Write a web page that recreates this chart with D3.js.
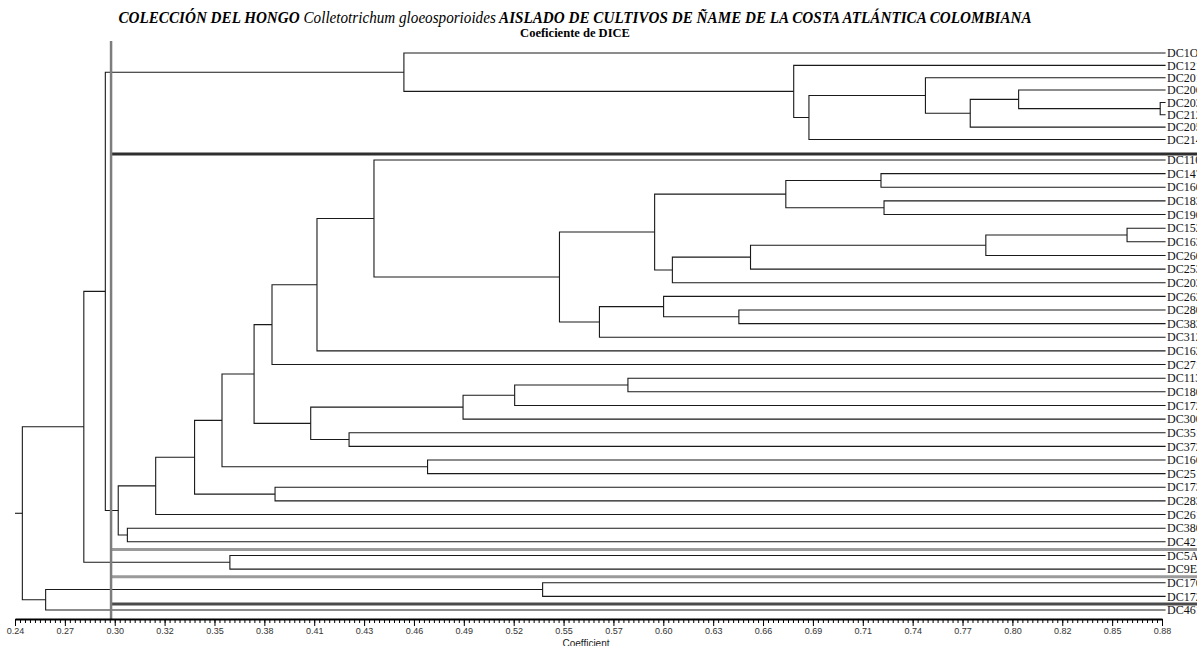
<!DOCTYPE html>
<html>
<head>
<meta charset="utf-8">
<style>
  body { margin: 0; background: #fff; }
  svg { display: block; }
</style>
</head>
<body>
<svg width="1197" height="646"></svg>
<script src="https://d3js.org/d3.v7.min.js"></script>
<script>

// leaf labels, top to bottom (clipped at the right edge like the original)
var leaves = ["DC1O1", "DC121", "DC201", "DC206", "DC203", "DC212", "DC205", "DC214",
              "DC110", "DC147", "DC160", "DC183", "DC190", "DC152", "DC163", "DC260",
              "DC253", "DC203", "DC262", "DC280", "DC383", "DC312", "DC162", "DC271",
              "DC113", "DC180", "DC172", "DC300", "DC351", "DC372", "DC166", "DC251",
              "DC173", "DC283", "DC261", "DC380", "DC421", "DC5A", "DC9E", "DC170",
              "DC172", "DC461"];

// joins: [node id, child a, child b, similarity]  (numbers = leaf index)
var merges = [
  ["T7", 4, 5, 0.879],
  ["T6", 3, "T7", 0.800],
  ["T5", "T6", 6, 0.773],
  ["T4", 2, "T5", 0.748],
  ["T3", "T4", 7, 0.683],
  ["T2", 1, "T3", 0.6745],
  ["T1", 0, "T2", 0.457],
  ["L", 13, 14, 0.8605],
  ["K", "L", 15, 0.7817],
  ["J", "K", 16, 0.6504],
  ["G", "J", 17, 0.6068],
  ["H", 9, 10, 0.7232],
  ["I", 11, 12, 0.7249],
  ["F", "H", "I", 0.6701],
  ["D", "F", "G", 0.5969],
  ["N", 19, 20, 0.6439],
  ["M", 18, "N", 0.6019],
  ["E", "M", 21, 0.5661],
  ["C", "D", "E", 0.5438],
  ["B", 8, "C", 0.4403],
  ["A", "B", 22, 0.4085],
  ["P", "A", 23, 0.3834],
  ["R4", 24, 25, 0.5820],
  ["R2", "R4", 26, 0.5188],
  ["R1", "R2", 27, 0.4900],
  ["R3", 28, 29, 0.4264],
  ["R", "R1", "R3", 0.4050],
  ["Q", "P", "R", 0.3734],
  ["W", 30, 31, 0.4702],
  ["S", "Q", "W", 0.3555],
  ["X", 32, 33, 0.3851],
  ["U", "S", "X", 0.3402],
  ["V7", "U", 34, 0.3185],
  ["V6", 35, 36, 0.3027],
  ["V5", "V7", "V6", 0.2976],
  ["V1", "T1", "V5", 0.2904],
  ["Y", 37, 38, 0.3599],
  ["V2", "V1", "Y", 0.2784],
  ["Z", 39, 40, 0.5344],
  ["V4", "Z", 41, 0.2571],
  ["V3", "V2", "V4", 0.2441]
];

var leafSim = 0.882,   // where leaf branches end
    rootSim = 0.240,
    cutSim = 0.2936;   // grey cut line

// group separators drawn above these leaf indices
var separators = [
  {before: 8, color: "#2e2e2e", width: 3},
  {before: 37, color: "#9a9a9a", width: 3},
  {before: 39, color: "#9a9a9a", width: 3},
  {before: 41, color: "#4a4a4a", width: 3}
];

var axisMin = 0.24, axisMax = 0.88, nMajor = 23, nMinor = 10;

var svg = d3.select("svg"),
    width = +svg.attr("width"),
    height = +svg.attr("height");

var x = d3.scaleLinear().domain([axisMin, axisMax]).range([15, 1162]);

// the top group is printed a little tighter than the rest
var yTop = d3.scalePoint().domain(d3.range(0, 8)).range([53, 139.5]),
    yRest = d3.scalePoint().domain(d3.range(8, leaves.length)).range([160, 610]);
function leafY(i) { return i < 8 ? yTop(i) : yRest(i); }

// positions of every node
var pos = {};
leaves.forEach(function(d, i) { pos[i] = {x: x(leafSim), y: leafY(i)}; });
merges.forEach(function(m) {
  var a = pos[m[1]], b = pos[m[2]];
  pos[m[0]] = {x: x(m[3]), y: (a.y + b.y) / 2, a: a, b: b};
});

// condensed serif headings: squeeze horizontally to the printed width
function condensed(sel, targetWidth) {
  var w = sel.node().getComputedTextLength();
  var t = sel.attr("data-t");
  sel.attr("transform", t + " scale(" + (targetWidth / w) + ",1)");
}

var title = svg.append("text")
    .attr("data-t", "translate(575,23)")
    .attr("text-anchor", "middle")
    .attr("font-family", "'Liberation Serif', serif")
    .attr("font-size", 17)
    .attr("font-style", "italic")
    .attr("font-weight", "bold");
title.append("tspan").text("COLECCIÓN DEL HONGO ");
title.append("tspan").attr("font-weight", "normal").text("Colletotrichum gloeosporioides");
title.append("tspan").text(" AISLADO DE CULTIVOS DE ÑAME DE LA COSTA  ATLÁNTICA COLOMBIANA");
condensed(title, 914);

var subtitle = svg.append("text")
    .attr("data-t", "translate(575,37)")
    .attr("text-anchor", "middle")
    .attr("font-family", "'Liberation Serif', serif")
    .attr("font-size", 12)
    .attr("font-weight", "bold")
    .text("Coeficiente de DICE");
condensed(subtitle, 110);

// dendrogram elbows
var g = svg.append("g")
    .attr("fill", "none")
    .attr("stroke", "#1a1a1a")
    .attr("stroke-width", 1.1);

g.selectAll("path")
  .data(merges)
  .enter().append("path")
    .attr("d", function(m) {
      var p = pos[m[0]];
      return "M" + p.a.x + "," + p.a.y + "H" + p.x + "V" + p.b.y + "H" + p.b.x;
    });

// root stub
var root = pos[merges[merges.length - 1][0]];
g.append("path").attr("d", "M" + x(rootSim) + "," + root.y + "H" + root.x);

// group separators and cut line
svg.append("g").selectAll("line")
  .data(separators)
  .enter().append("line")
    .attr("x1", x(cutSim))
    .attr("x2", width)
    .attr("y1", function(d) { return leafY(d.before) - 6; })
    .attr("y2", function(d) { return leafY(d.before) - 6; })
    .attr("stroke", function(d) { return d.color; })
    .attr("stroke-width", function(d) { return d.width; });

svg.append("line")
    .attr("x1", x(cutSim)).attr("x2", x(cutSim))
    .attr("y1", 41).attr("y2", 619)
    .attr("stroke", "#7d7d7d")
    .attr("stroke-width", 2.5);

// leaf labels
svg.append("g")
    .attr("font-family", "'Liberation Serif', serif")
    .attr("font-size", 12)
    .attr("fill", "#111")
  .selectAll("text")
  .data(leaves)
  .enter().append("text")
    .attr("x", x(leafSim) + 1.5)
    .attr("y", function(d, i) { return leafY(i); })
    .attr("dy", "0.35em")
    .text(function(d) { return d; });

// axis
var step = (axisMax - axisMin) / nMajor;
var majorTicks = d3.range(nMajor + 1).map(function(k) { return axisMin + k * step; }),
    minorTicks = d3.range(nMajor * nMinor + 1).map(function(k) { return axisMin + k * step / nMinor; });

var axisY = 619;

svg.append("g")
    .attr("transform", "translate(0," + axisY + ")")
    .call(d3.axisBottom(x).tickValues(minorTicks).tickSize(4).tickSizeOuter(0).tickFormat(""))
    .call(function(a) { a.select(".domain").attr("stroke-width", 2); });

svg.append("g")
    .attr("transform", "translate(0," + axisY + ")")
    .call(d3.axisBottom(x).tickValues(majorTicks).tickSize(7).tickSizeOuter(0).tickFormat(d3.format(".2f")))
    .call(function(a) {
      a.select(".domain").remove();
      a.selectAll("text")
        .attr("font-family", "'Liberation Sans', sans-serif")
        .attr("font-size", 9)
        .attr("fill", "#333")
        .attr("dy", "0.5em");
    });

svg.append("text")
    .attr("x", 586)
    .attr("y", 647)
    .attr("text-anchor", "middle")
    .attr("font-family", "'Liberation Sans', sans-serif")
    .attr("font-size", 10)
    .attr("fill", "#222")
    .text("Coefficient");

</script>
</body>
</html>
